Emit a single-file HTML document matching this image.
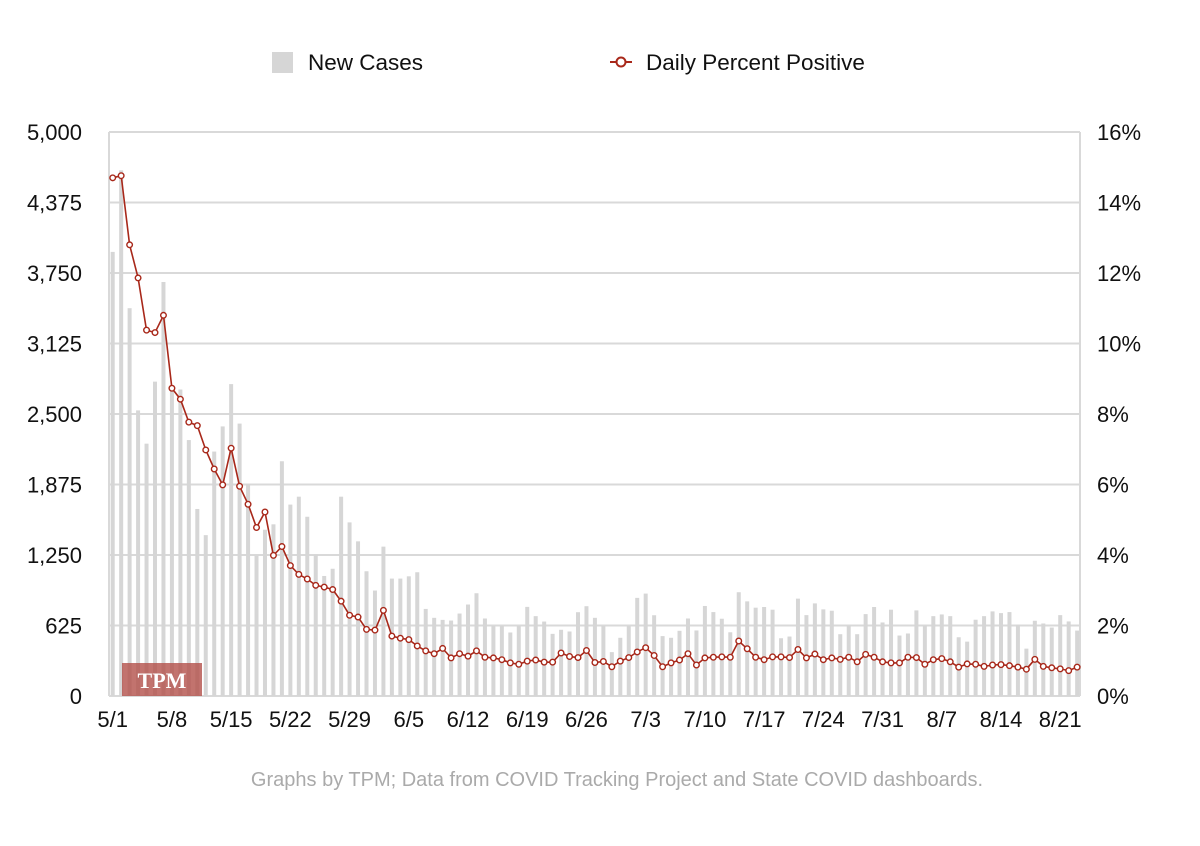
<!DOCTYPE html>
<html><head><meta charset="utf-8"><style>
body{margin:0;background:#fff;}
svg text{font-family:"Liberation Sans",Arial,sans-serif;}
</style></head><body>
<svg id="chart" width="1200" height="841" viewBox="0 0 1200 841" xmlns="http://www.w3.org/2000/svg">
<rect width="1200" height="841" fill="#fff"/>
<g id="grid"></g>
<g id="bars"></g>
<g id="logo">
<rect x="122" y="663" width="80" height="33" fill="#b3504a" opacity="0.8"/>
<text x="162" y="688" text-anchor="middle" fill="#fff" font-size="22" font-weight="bold" style="font-family:'Liberation Serif',serif">TPM</text>
</g>
<g id="line"></g>
<g id="axes"></g>
<g>
<rect x="272" y="52" width="21" height="21" fill="#d6d6d6"/>
<text x="308" y="70" font-size="22.5" fill="#111">New Cases</text>
<line x1="610" y1="62" x2="632" y2="62" stroke="#a8281a" stroke-width="2"/>
<circle cx="621" cy="62" r="4.5" fill="#fff" stroke="#a8281a" stroke-width="2"/>
<text x="646" y="70" font-size="22.5" fill="#111">Daily Percent Positive</text>
</g>
<text x="617" y="786" text-anchor="middle" font-size="20" fill="#aaa">Graphs by TPM; Data from COVID Tracking Project and State COVID dashboards.</text>
</svg>
<script>
const cases=[3937,4660,3438,2532,2237,2787,3670,2750,2717,2269,1658,1426,2167,2390,2765,2415,1881,1245,1474,1522,2081,1697,1767,1589,1252,1064,1128,1767,1539,1371,1106,935,1324,1041,1041,1061,1097,772,693,675,669,731,811,911,687,619,619,563,619,790,708,660,551,587,572,743,796,693,619,389,516,619,870,908,716,531,516,578,687,581,798,744,685,565,920,839,783,789,765,512,527,863,717,821,768,756,548,625,548,726,789,652,765,536,554,759,625,708,723,708,521,482,676,708,750,735,744,631,420,667,643,607,717,661,580];
const pct=[14.7,14.76,12.8,11.86,10.38,10.31,10.8,8.73,8.42,7.77,7.67,6.98,6.44,5.99,7.03,5.95,5.44,4.78,5.22,3.99,4.24,3.70,3.45,3.32,3.14,3.09,3.02,2.69,2.29,2.24,1.89,1.87,2.43,1.70,1.64,1.60,1.42,1.28,1.20,1.35,1.08,1.20,1.13,1.28,1.10,1.08,1.03,0.94,0.90,0.99,1.02,0.96,0.96,1.22,1.12,1.09,1.29,0.95,0.98,0.83,0.99,1.09,1.25,1.37,1.15,0.83,0.94,1.02,1.20,0.88,1.08,1.10,1.11,1.10,1.56,1.34,1.10,1.03,1.11,1.11,1.09,1.32,1.08,1.19,1.03,1.08,1.04,1.10,0.97,1.18,1.10,0.97,0.94,0.94,1.10,1.09,0.90,1.03,1.06,0.97,0.82,0.91,0.90,0.84,0.88,0.89,0.86,0.82,0.76,1.04,0.84,0.80,0.77,0.72,0.82];
const leftTicks=[0,625,1250,1875,2500,3125,3750,4375,5000];
const leftTickLabels=["0","625","1,250","1,875","2,500","3,125","3,750","4,375","5,000"];
const rightTicks=[0,2,4,6,8,10,12,14,16];
const dateLabels=["5/1","5/8","5/15","5/22","5/29","6/5","6/12","6/19","6/26","7/3","7/10","7/17","7/24","7/31","8/7","8/14","8/21"];

const NS="http://www.w3.org/2000/svg";
const X0=112.7,STEP=8.46,TOP=132,BOT=696;
const x=i=>X0+STEP*i;
const yL=v=>BOT-(v/5000)*(BOT-TOP);
const yR=v=>BOT-(v/16)*(BOT-TOP);
function mk(tag,attrs,parent){const e=document.createElementNS(NS,tag);for(const k in attrs)e.setAttribute(k,attrs[k]);parent.appendChild(e);return e;}
const grid=document.getElementById('grid'),bars=document.getElementById('bars'),line=document.getElementById('line'),axes=document.getElementById('axes');
leftTicks.forEach((t,k)=>{
  const g=mk('line',{x1:109,x2:1080,y1:yL(t),y2:yL(t),stroke:'#d9d9d9','stroke-width':2},grid);
  
  
  const tl=mk('text',{x:82,y:yL(t)+8,'text-anchor':'end','font-size':22,fill:'#111'},axes);
  tl.textContent=leftTickLabels[k];
  
  
});
rightTicks.forEach(t=>{
  const tr=mk('text',{x:1097,y:yR(t)+8,'font-size':22,fill:'#111'},axes);
  tr.textContent=t+'%';
  
  
});
const la=mk('line',{x1:109,x2:109,y1:TOP,y2:BOT,stroke:'#d9d9d9','stroke-width':2},grid);


const ra=mk('line',{x1:1080,x2:1080,y1:TOP,y2:BOT,stroke:'#d9d9d9','stroke-width':2},grid);


cases.forEach((v,i)=>{
  const b=mk('rect',{x:x(i)-2,y:yL(v),width:4,height:BOT-yL(v),fill:'#d6d6d6'},bars);
  
  
});
const pts=pct.map((v,i)=>x(i).toFixed(1)+','+yR(v).toFixed(1)).join(' ');
const pl=mk('polyline',{points:pts,fill:'none',stroke:'#a8281a','stroke-width':1.6},line);


pct.forEach((v,i)=>{
  const c=mk('circle',{cx:x(i),cy:yR(v),r:2.8,fill:'#fff',stroke:'#a8281a','stroke-width':1.4},line);
  
  
});
dateLabels.forEach((d,k)=>{
  const t=mk('text',{x:x(k*7),y:727,'text-anchor':'middle','font-size':22,fill:'#111'},axes);
  t.textContent=d;
  
  
});
</script>
</body></html>
